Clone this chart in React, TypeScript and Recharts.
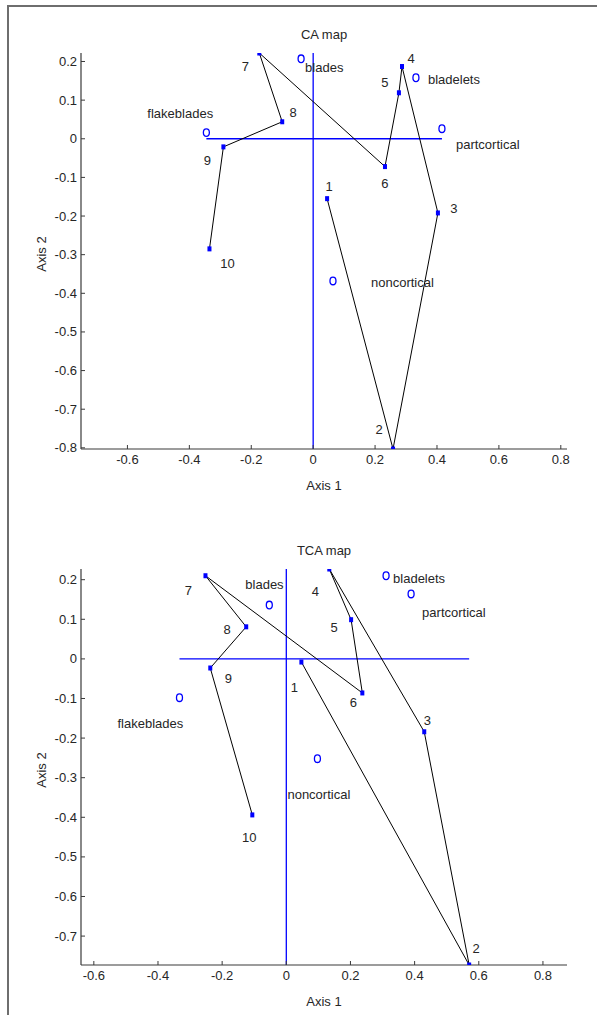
import React from 'react';
import { ScatterChart, Scatter, XAxis, YAxis, ReferenceLine } from 'recharts';

// ---------- data ----------
const rowLabels = ['1', '2', '3', '4', '5', '6', '7', '8', '9', '10'];
const colLabels = ['blades', 'bladelets', 'partcortical', 'flakeblades', 'noncortical'];

// CA map
const caRowX = [0.045, 0.258, 0.403, 0.287, 0.277, 0.232, -0.174, -0.1, -0.29, -0.335];
const caRowY = [-0.155, -0.803, -0.192, 0.187, 0.119, -0.072, 0.222, 0.044, -0.021, -0.285];
const caColX = [-0.039, 0.332, 0.416, -0.345, 0.064];
const caColY = [0.207, 0.158, 0.026, 0.016, -0.368];

// TCA map
const tcaRowX = [0.047, 0.57, 0.43, 0.134, 0.202, 0.237, -0.252, -0.125, -0.237, -0.106];
const tcaRowY = [-0.008, -0.773, -0.184, 0.227, 0.099, -0.086, 0.21, 0.081, -0.023, -0.394];
const tcaColX = [-0.053, 0.311, 0.389, -0.333, 0.097];
const tcaColY = [0.136, 0.21, 0.164, -0.098, -0.252];

// axes
const caXDomain = [-0.75, 0.82];
const tcaXDomain = [-0.64, 0.875];
const xTicks = [-0.6, -0.4, -0.2, 0, 0.2, 0.4, 0.6, 0.8];
const caYTicks = [0.2, 0.1, 0, -0.1, -0.2, -0.3, -0.4, -0.5, -0.6, -0.7, -0.8];
const tcaYTicks = [0.2, 0.1, 0, -0.1, -0.2, -0.3, -0.4, -0.5, -0.6, -0.7];

// ---------- label placement (pixel offsets, label centre for rows, left/centre for columns) ----------
const caRowOff = [[2, -12], [-14, -20], [16, -4], [9, -8], [-14, -10], [0, 17], [-14, 13], [11, -9], [-16, 14], [18, 15]];
const caColOff = [[4, 9], [12, 2], [14, 16], [-59, -19], [38, 2]];
const tcaRowOff = [[-7, 25], [7, -17], [3, -11], [-14, 22], [-17, 8], [-9, 10], [-17, 15], [-19, 3], [18, 10], [-3, 23]];
const tcaColOff = [[-24, -21], [7, 3], [11, 19], [-62, 26], [-30, 36]];

const FONT = '"Liberation Sans", Arial, sans-serif';
const TXT = '#262626';
const BLUE = '#0000ff';
const AX = '#3a3a3a';

const fmt = (v: number) => String(v);

const XTick = (props: any) => {
  const { x, y, payload } = props;
  return (
    <g>
      <line x1={x} x2={x} y1={y} y2={y - 4} stroke={AX} strokeWidth={1} />
      <text x={x} y={y + 15} textAnchor="middle" fontSize={13} fontFamily={FONT} fill={TXT}>
        {fmt(payload.value)}
      </text>
    </g>
  );
};

const YTick = (props: any) => {
  const { x, y, payload } = props;
  return (
    <g>
      <line x1={x} x2={x + 4} y1={y} y2={y} stroke={AX} strokeWidth={1} />
      <text x={x - 4} y={y} dy="0.35em" textAnchor="end" fontSize={13} fontFamily={FONT} fill={TXT}>
        {fmt(payload.value)}
      </text>
    </g>
  );
};

type MapProps = {
  title: string;
  top: number;
  height: number;
  mTop: number;
  mBottom: number;
  xDomain: number[];
  yTicks: number[];
  rowX: number[];
  rowY: number[];
  colX: number[];
  colY: number[];
  rowOff: number[][];
  colOff: number[][];
};

const MapChart = (p: MapProps) => {
  const rows = rowLabels.map((n, i) => ({ x: p.rowX[i], y: p.rowY[i], name: n, i }));
  const cols = colLabels.map((n, i) => ({ x: p.colX[i], y: p.colY[i], name: n, i }));
  const allX = [...p.rowX, ...p.colX];
  const allY = [...p.rowY, ...p.colY];
  const minX = Math.min(...allX);
  const maxX = Math.max(...allX);
  const minY = Math.min(...allY);
  const maxY = Math.max(...allY);

  const rowShape = (s: any) => {
    const i = s.payload ? s.payload.i : s.i;
    const o = p.rowOff[i];
    return (
      <g>
        <rect x={s.cx - 2} y={s.cy - 2.5} width={4} height={5} fill={BLUE} />
        <text
          x={s.cx + o[0]}
          y={s.cy + o[1]}
          dy="0.35em"
          textAnchor="middle"
          fontSize={13}
          fontFamily={FONT}
          fill={TXT}
        >
          {rowLabels[i]}
        </text>
      </g>
    );
  };

  const colShape = (s: any) => {
    const i = s.payload ? s.payload.i : s.i;
    const o = p.colOff[i];
    return (
      <g>
        <ellipse cx={s.cx} cy={s.cy} rx={3} ry={3.8} fill="none" stroke={BLUE} strokeWidth={1.3} />
        <text
          x={s.cx + o[0]}
          y={s.cy + o[1]}
          dy="0.35em"
          textAnchor="start"
          fontSize={13}
          fontFamily={FONT}
          fill={TXT}
        >
          {colLabels[i]}
        </text>
      </g>
    );
  };

  return (
    <div style={{ position: 'absolute', left: 0, top: p.top, width: 597, height: p.height }}>
      <div
        style={{
          position: 'absolute',
          left: 81,
          width: 486,
          top: p.mTop - 26,
          textAlign: 'center',
          fontFamily: FONT,
          fontSize: 13,
          color: TXT,
          lineHeight: '16px',
        }}
      >
        {p.title}
      </div>
      <ScatterChart
        width={597}
        height={p.height}
        margin={{ top: p.mTop, right: 30, bottom: p.mBottom, left: 31 }}
        style={{ position: 'absolute', left: 0, top: 0 }}
      >
        <XAxis
          type="number"
          dataKey="x"
          domain={p.xDomain}
          allowDataOverflow
          ticks={xTicks}
          interval={0}
          height={30}
          tickSize={0}
          tickMargin={0}
          tickLine={false}
          axisLine={{ stroke: AX, strokeWidth: 1.2 }}
          tick={<XTick />}
          label={{
            content: (l: any) => {
              const vb = l.viewBox;
              return (
                <text
                  x={vb.x + vb.width / 2}
                  y={vb.y + 36}
                  dy="0.35em"
                  textAnchor="middle"
                  fontSize={13}
                  fontFamily={FONT}
                  fill={TXT}
                >
                  Axis 1
                </text>
              );
            },
          }}
        />
        <YAxis
          type="number"
          dataKey="y"
          domain={[minY, maxY]}
          allowDataOverflow
          ticks={p.yTicks}
          interval={0}
          width={50}
          tickSize={0}
          tickMargin={0}
          tickLine={false}
          axisLine={{ stroke: AX, strokeWidth: 1.2 }}
          tick={<YTick />}
          label={{
            content: (l: any) => {
              const vb = l.viewBox;
              const cx = vb.x + 10;
              const cy = vb.y + vb.height / 2 + 3;
              return (
                <text
                  x={cx}
                  y={cy}
                  dy="0.35em"
                  textAnchor="middle"
                  transform={`rotate(-90 ${cx} ${cy})`}
                  fontSize={13}
                  fontFamily={FONT}
                  fill={TXT}
                >
                  Axis 2
                </text>
              );
            },
          }}
        />
        <ReferenceLine
          segment={[{ x: minX, y: 0 }, { x: maxX, y: 0 }]}
          stroke={BLUE}
          strokeWidth={1.3}
          ifOverflow="visible"
        />
        <ReferenceLine
          segment={[{ x: 0, y: minY }, { x: 0, y: maxY }]}
          stroke={BLUE}
          strokeWidth={1.3}
          ifOverflow="visible"
        />
        <Scatter
          data={rows}
          line={{ stroke: '#000', strokeWidth: 1 }}
          lineType="joint"
          shape={rowShape}
          isAnimationActive={false}
        />
        <Scatter data={cols} shape={colShape} isAnimationActive={false} />
      </ScatterChart>
    </div>
  );
};

export default function App() {
  return (
    <div style={{ position: 'absolute', left: 0, top: 0, width: 597, height: 1015, background: '#fff' }}>
      <div
        style={{
          position: 'absolute',
          left: 7,
          top: 5,
          width: 590,
          height: 1010,
          borderTop: '2px solid #6e6e6e',
          borderLeft: '2px solid #6e6e6e',
          boxSizing: 'border-box',
        }}
      />
      <MapChart
        title="CA map"
        top={0}
        height={500}
        mTop={53}
        mBottom={21}
        xDomain={caXDomain}
        yTicks={caYTicks}
        rowX={caRowX}
        rowY={caRowY}
        colX={caColX}
        colY={caColY}
        rowOff={caRowOff}
        colOff={caColOff}
      />
      <MapChart
        title="TCA map"
        top={510}
        height={505}
        mTop={59}
        mBottom={20}
        xDomain={tcaXDomain}
        yTicks={tcaYTicks}
        rowX={tcaRowX}
        rowY={tcaRowY}
        colX={tcaColX}
        colY={tcaColY}
        rowOff={tcaRowOff}
        colOff={tcaColOff}
      />
    </div>
  );
}
